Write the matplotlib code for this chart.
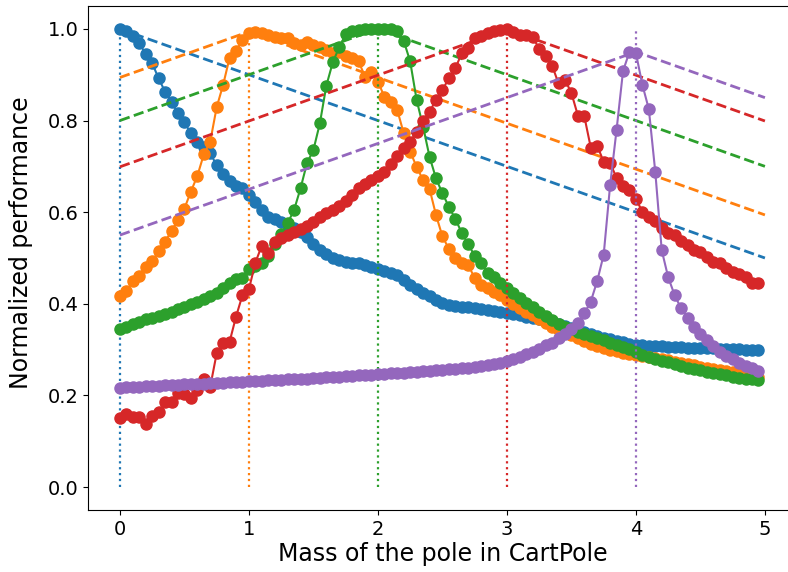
import numpy as np
import matplotlib
matplotlib.use("Agg")
import matplotlib.pyplot as plt

# Pole masses swept in the CartPole environment
masses = np.round(np.arange(100) * 0.05, 2)

# Training masses for each policy (one per colour)
train_masses = [0, 1, 2, 3, 4]

perf_m0 = [
    1.000, 0.996, 0.985, 0.969, 0.945, 0.925, 0.892, 0.863, 0.840, 0.816,
    0.796, 0.772, 0.754, 0.743, 0.729, 0.702, 0.683, 0.669, 0.658, 0.652,
    0.638, 0.622, 0.605, 0.589, 0.585, 0.578, 0.572, 0.566, 0.556, 0.546,
    0.530, 0.518, 0.508, 0.500, 0.495, 0.492, 0.490, 0.488, 0.485, 0.480,
    0.476, 0.472, 0.468, 0.462, 0.452, 0.442, 0.432, 0.424, 0.416, 0.408,
    0.402, 0.398, 0.396, 0.394, 0.392, 0.390, 0.388, 0.386, 0.384, 0.382,
    0.379, 0.377, 0.375, 0.372, 0.370, 0.367, 0.363, 0.359, 0.355, 0.351,
    0.347, 0.343, 0.339, 0.334, 0.330, 0.326, 0.323, 0.319, 0.316, 0.313,
    0.311, 0.310, 0.309, 0.308, 0.307, 0.306, 0.305, 0.305, 0.304, 0.304,
    0.303, 0.303, 0.303, 0.302, 0.302, 0.301, 0.301, 0.300, 0.300, 0.300,
]

perf_m1 = [
    0.417, 0.428, 0.450, 0.461, 0.481, 0.493, 0.515, 0.536, 0.559, 0.583,
    0.608, 0.645, 0.679, 0.726, 0.754, 0.829, 0.878, 0.937, 0.952, 0.976,
    0.990, 0.994, 0.990, 0.987, 0.982, 0.980, 0.980, 0.970, 0.965, 0.972,
    0.965, 0.961, 0.955, 0.947, 0.950, 0.940, 0.936, 0.929, 0.896, 0.907,
    0.885, 0.852, 0.841, 0.823, 0.772, 0.732, 0.699, 0.670, 0.651, 0.594,
    0.547, 0.520, 0.500, 0.490, 0.485, 0.456, 0.441, 0.434, 0.426, 0.419,
    0.408, 0.399, 0.390, 0.383, 0.376, 0.367, 0.358, 0.350, 0.343, 0.337,
    0.331, 0.325, 0.319, 0.313, 0.308, 0.304, 0.300, 0.296, 0.293, 0.290,
    0.289, 0.287, 0.284, 0.282, 0.279, 0.277, 0.274, 0.271, 0.268, 0.266,
    0.263, 0.261, 0.258, 0.256, 0.253, 0.251, 0.248, 0.246, 0.243, 0.241,
]

perf_m2 = [
    0.346, 0.350, 0.356, 0.361, 0.366, 0.370, 0.373, 0.378, 0.383, 0.388,
    0.394, 0.399, 0.403, 0.410, 0.417, 0.424, 0.434, 0.446, 0.454, 0.456,
    0.475, 0.483, 0.488, 0.505, 0.530, 0.552, 0.576, 0.605, 0.652, 0.707,
    0.736, 0.794, 0.876, 0.927, 0.960, 0.988, 0.995, 0.998, 0.999, 1.000,
    1.000, 1.000, 0.999, 0.996, 0.974, 0.929, 0.845, 0.787, 0.721, 0.674,
    0.641, 0.612, 0.585, 0.555, 0.530, 0.505, 0.488, 0.467, 0.459, 0.445,
    0.434, 0.423, 0.412, 0.401, 0.392, 0.383, 0.374, 0.365, 0.357, 0.350,
    0.344, 0.339, 0.334, 0.329, 0.325, 0.320, 0.315, 0.310, 0.306, 0.302,
    0.295, 0.289, 0.284, 0.280, 0.276, 0.272, 0.268, 0.264, 0.261, 0.258,
    0.255, 0.252, 0.249, 0.246, 0.244, 0.241, 0.239, 0.237, 0.235, 0.233,
]

perf_m3 = [
    0.150, 0.159, 0.153, 0.153, 0.138, 0.155, 0.164, 0.186, 0.186, 0.205,
    0.203, 0.194, 0.212, 0.237, 0.219, 0.292, 0.314, 0.317, 0.372, 0.419,
    0.432, 0.490, 0.527, 0.510, 0.534, 0.543, 0.550, 0.557, 0.564, 0.570,
    0.578, 0.590, 0.598, 0.605, 0.614, 0.624, 0.638, 0.652, 0.662, 0.670,
    0.680, 0.688, 0.705, 0.722, 0.740, 0.754, 0.776, 0.798, 0.819, 0.845,
    0.867, 0.892, 0.914, 0.947, 0.958, 0.980, 0.985, 0.990, 0.996, 0.998,
    0.999, 0.994, 0.987, 0.987, 0.983, 0.956, 0.940, 0.920, 0.881, 0.889,
    0.860, 0.811, 0.809, 0.741, 0.745, 0.710, 0.707, 0.675, 0.658, 0.648,
    0.629, 0.601, 0.590, 0.581, 0.565, 0.554, 0.550, 0.537, 0.528, 0.517,
    0.514, 0.503, 0.492, 0.488, 0.478, 0.470, 0.465, 0.459, 0.445, 0.445,
]

perf_m4 = [
    0.217, 0.218, 0.219, 0.219, 0.220, 0.221, 0.221, 0.222, 0.223, 0.223,
    0.224, 0.225, 0.225, 0.226, 0.227, 0.227, 0.228, 0.229, 0.229, 0.230,
    0.231, 0.231, 0.232, 0.233, 0.234, 0.234, 0.235, 0.236, 0.237, 0.237,
    0.238, 0.239, 0.240, 0.241, 0.241, 0.242, 0.243, 0.244, 0.245, 0.245,
    0.246, 0.247, 0.248, 0.249, 0.250, 0.251, 0.252, 0.253, 0.254, 0.255,
    0.256, 0.257, 0.258, 0.259, 0.261, 0.262, 0.264, 0.266, 0.268, 0.271,
    0.276, 0.280, 0.285, 0.290, 0.295, 0.302, 0.310, 0.315, 0.325, 0.334,
    0.346, 0.359, 0.379, 0.405, 0.450, 0.507, 0.659, 0.780, 0.908, 0.950,
    0.947, 0.878, 0.825, 0.688, 0.517, 0.458, 0.419, 0.390, 0.370, 0.350,
    0.334, 0.321, 0.308, 0.295, 0.286, 0.279, 0.271, 0.264, 0.259, 0.254,
]

series = [perf_m0, perf_m1, perf_m2, perf_m3, perf_m4]
colors = ["tab:blue", "tab:orange", "tab:green", "tab:red", "tab:purple"]

# Reference "tent" decaying by 0.1 per unit of mass away from the training mass
decay = 0.1

fig = plt.figure(figsize=(7.88, 5.72), dpi=100)
ax = fig.add_axes([88 / 788, 62 / 572, 710 / 788, 504 / 572])

for center, perf, color in zip(train_masses, series, colors):
    ax.plot(masses, perf, "-o", color=color, lw=1.5, markersize=8)
    peak = max(perf)
    xs = np.array([0.0, center, 5.0])
    ax.plot(xs, peak - decay * np.abs(xs - center), "--", color=color, lw=2)
    ax.plot([center, center], [0, 1], ":", color=color, lw=1.6)

ax.set_xlim(-0.2475, -0.2475 + 710 / 129)
ax.set_ylim(-0.05, 1.05)
ax.set_xticks([0, 1, 2, 3, 4, 5])
ax.set_yticks([0.0, 0.2, 0.4, 0.6, 0.8, 1.0])
ax.tick_params(labelsize=14)
ax.set_xlabel("Mass of the pole in CartPole", fontsize=17, labelpad=2)
ax.set_ylabel("Normalized performance", fontsize=17)
ax.yaxis.set_label_coords(-0.077, 0.53)

fig.savefig("out.png", dpi=100)
